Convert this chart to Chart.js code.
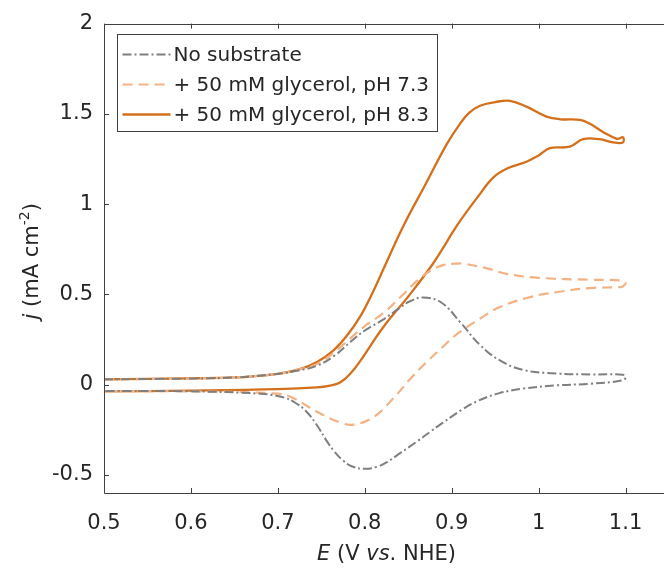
<!DOCTYPE html>
<html>
<head>
<meta charset="utf-8">
<script src="https://cdn.jsdelivr.net/npm/chart.js@4.4.0/dist/chart.umd.min.js"></script>
<style>
    html, body { margin: 0; padding: 0; background: #fff; overflow: hidden; }
    canvas { display: block; }
</style>
</head>
<body>
<canvas id="grafikCV" width="680" height="568"></canvas>
<script>
// tick marks on the axes
const tickX = [0.5, 0.6, 0.7, 0.8, 0.9, 1, 1.1];
const tickY = [-0.5, 0, 0.5, 1, 1.5, 2];

// series names
const labels = ['No substrate', '+ 50 mM glycerol, pH 7.3', '+ 50 mM glycerol, pH 8.3'];

// no substrate: forward scan then return scan (V, mA cm-2)
const eNoSub = [0.5, 0.6, 0.65, 0.7, 0.725, 0.745, 0.765, 0.783, 0.8, 0.821, 0.84, 0.852, 0.867, 0.888, 0.91, 0.9325, 0.9555, 0.982, 1.02, 1.06, 1.097, 1.1,
    1.097, 1.059, 1.02, 0.982, 0.954, 0.93, 0.913, 0.89, 0.875, 0.86, 0.841, 0.826, 0.814, 0.8, 0.785, 0.775, 0.765, 0.756, 0.745, 0.733, 0.72, 0.706, 0.68, 0.6, 0.5];
const jNoSub = [0.03, 0.034, 0.04, 0.06, 0.08, 0.105, 0.16, 0.235, 0.3, 0.36, 0.425, 0.462, 0.483, 0.455, 0.345, 0.22, 0.134, 0.082, 0.062, 0.057, 0.055, 0.04,
    0.024, 0.005, -0.004, -0.022, -0.048, -0.09, -0.135, -0.21, -0.262, -0.315, -0.378, -0.428, -0.455, -0.466, -0.452, -0.42, -0.37, -0.31, -0.225, -0.15, -0.1, -0.07, -0.05, -0.037, -0.035];

// glycerol, pH 7.3
const ePh73 = [0.5, 0.6, 0.65, 0.7, 0.725, 0.745, 0.765, 0.783, 0.8, 0.821, 0.84, 0.86, 0.875, 0.89, 0.906, 0.917, 0.944, 0.963, 1.0, 1.059, 1.095, 1.1,
    1.097, 1.093, 1.059, 1.02, 0.99, 0.9555, 0.9325, 0.906, 0.89, 0.87, 0.852, 0.833, 0.81, 0.787, 0.772, 0.745, 0.718, 0.7, 0.6, 0.5];
const jPh73 = [0.03, 0.034, 0.04, 0.06, 0.085, 0.115, 0.18, 0.255, 0.325, 0.395, 0.48, 0.575, 0.63, 0.662, 0.671, 0.668, 0.64, 0.614, 0.592, 0.581, 0.577, 0.565,
    0.545, 0.54, 0.535, 0.512, 0.485, 0.43, 0.365, 0.28, 0.21, 0.12, 0.03, -0.075, -0.18, -0.221, -0.21, -0.15, -0.075, -0.05, -0.037, -0.035];

// glycerol, pH 8.3
const ePh83 = [0.5, 0.55, 0.6, 0.65, 0.68, 0.7, 0.726, 0.745, 0.764, 0.78, 0.795, 0.808, 0.821, 0.844, 0.871, 0.894, 0.9095, 0.92, 0.9325, 0.95, 0.967, 0.986, 1.009, 1.025, 1.0475, 1.059, 1.074, 1.09, 1.097,
    1.097, 1.086, 1.07, 1.051, 1.036, 1.013, 1.0, 0.986, 0.965, 0.948, 0.93, 0.906, 0.888, 0.877, 0.852, 0.821, 0.795, 0.785, 0.772, 0.76, 0.745, 0.7, 0.6, 0.5];
const jPh83 = [0.03, 0.032, 0.035, 0.04, 0.05, 0.06, 0.087, 0.125, 0.19, 0.275, 0.38, 0.5, 0.635, 0.875, 1.12, 1.33, 1.445, 1.505, 1.545, 1.565, 1.572, 1.54, 1.485, 1.47, 1.467, 1.445, 1.4, 1.362, 1.37,
    1.342, 1.342, 1.36, 1.36, 1.318, 1.31, 1.27, 1.235, 1.2, 1.148, 1.04, 0.881, 0.741, 0.66, 0.5, 0.317, 0.133, 0.07, 0.013, -0.005, -0.015, -0.025, -0.033, -0.037];

function toPoints(e, j) {
    return e.map(function (v, i) {
        return { x: v, y: j[i] };
    });
}

const fontFamily = "'DejaVu Sans', 'Liberation Sans', Arial, sans-serif";
const textColor = '#262626';
const axisColor = '#404040';

// box round the plot with inward ticks on all four sides
const framePlugin = {
    id: 'frameTicks',
    afterDraw: function (chart) {
        const ctx = chart.ctx;
        const a = chart.chartArea;
        const sx = chart.scales.x;
        const sy = chart.scales.y;
        const len = 5;
        ctx.save();
        ctx.strokeStyle = axisColor;
        ctx.lineWidth = 1;
        ctx.beginPath();
        ctx.rect(Math.round(a.left) + 0.5, Math.round(a.top) + 0.5, Math.round(a.right - a.left), Math.round(a.bottom - a.top));
        tickX.forEach(function (v) {
            const px = Math.round(sx.getPixelForValue(v)) + 0.5;
            ctx.moveTo(px, a.bottom);
            ctx.lineTo(px, a.bottom - len);
            ctx.moveTo(px, a.top);
            ctx.lineTo(px, a.top + len);
        });
        tickY.forEach(function (v) {
            const py = Math.round(sy.getPixelForValue(v)) + 0.5;
            ctx.moveTo(a.left, py);
            ctx.lineTo(a.left + len, py);
            ctx.moveTo(a.right, py);
            ctx.lineTo(a.right - len, py);
        });
        ctx.stroke();
        ctx.restore();
    }
};

// draws a run of text pieces, some italic, some raised
function drawPieces(ctx, pieces, cx, cy) {
    let total = 0;
    pieces.forEach(function (p) {
        ctx.font = (p.italic ? 'italic ' : '') + p.size + 'px ' + fontFamily;
        p.w = ctx.measureText(p.text).width;
        total += p.w;
    });
    let x = cx - total / 2;
    pieces.forEach(function (p) {
        ctx.font = (p.italic ? 'italic ' : '') + p.size + 'px ' + fontFamily;
        ctx.fillText(p.text, x, cy - (p.rise || 0));
        x += p.w;
    });
}

const axisTitlePlugin = {
    id: 'axisTitles',
    afterDraw: function (chart) {
        const ctx = chart.ctx;
        const a = chart.chartArea;
        ctx.save();
        ctx.fillStyle = textColor;
        ctx.textAlign = 'left';
        ctx.textBaseline = 'middle';
        drawPieces(ctx, [
            { text: 'E', italic: true, size: 21 },
            { text: ' (V ', size: 21 },
            { text: 'vs', italic: true, size: 21 },
            { text: '. NHE)', size: 21 }
        ], (a.left + a.right) / 2, 555);

        ctx.translate(33, (a.top + a.bottom) / 2 + 3);
        ctx.rotate(-Math.PI / 2);
        drawPieces(ctx, [
            { text: 'j', italic: true, size: 21 },
            { text: ' (mA cm', size: 21 },
            { text: '-2', size: 14, rise: 8 },
            { text: ')', size: 21 }
        ], 0, 0);
        ctx.restore();
    }
};

// legend box in the top left corner of the plot
const legendPlugin = {
    id: 'legendBox',
    afterDraw: function (chart) {
        const ctx = chart.ctx;
        const a = chart.chartArea;
        const left = Math.round(a.left + 13) + 0.5;
        const top = Math.round(a.top + 10) + 0.5;
        const width = 320;
        const height = 97;
        ctx.save();
        ctx.fillStyle = '#ffffff';
        ctx.fillRect(left, top, width, height);
        ctx.strokeStyle = axisColor;
        ctx.lineWidth = 1;
        ctx.strokeRect(left, top, width, height);

        ctx.font = '20px ' + fontFamily;
        ctx.textAlign = 'left';
        ctx.textBaseline = 'middle';
        chart.data.datasets.forEach(function (ds, i) {
            const y = top + 20 + i * 30;
            ctx.beginPath();
            ctx.strokeStyle = ds.borderColor;
            ctx.lineWidth = ds.borderWidth;
            ctx.setLineDash(ds.borderDash || []);
            ctx.moveTo(left + 5, y);
            ctx.lineTo(left + 53, y);
            ctx.stroke();
            ctx.setLineDash([]);
            ctx.fillStyle = textColor;
            ctx.fillText(ds.label, left + 56, y + 1);
        });
        ctx.restore();
    }
};

new Chart('grafikCV', {
    type: 'scatter',
    data: {
        datasets: [{
            label: labels[0],
            data: toPoints(eNoSub, jNoSub),
            borderColor: '#7f7f7f',
            borderWidth: 2,
            borderDash: [9, 3, 2, 3],
            showLine: true,
            pointRadius: 0,
            tension: 0.4
        }, {
            label: labels[1],
            data: toPoints(ePh73, jPh73),
            borderColor: '#f4b183',
            borderWidth: 2.2,
            borderDash: [10, 6],
            showLine: true,
            pointRadius: 0,
            tension: 0.4
        }, {
            label: labels[2],
            data: toPoints(ePh83, jPh83),
            borderColor: '#d4701c',
            borderWidth: 2.3,
            showLine: true,
            pointRadius: 0,
            tension: 0.4
        }]
    },
    options: {
        responsive: false,
        animation: false,
        layout: {
            padding: { top: 23, right: 11, left: 0, bottom: 0 }
        },
        plugins: {
            legend: { display: false },
            tooltip: { enabled: false }
        },
        scales: {
            x: {
                type: 'linear',
                min: 0.5,
                max: 1.15,
                grid: { display: false, drawTicks: false },
                border: { display: false },
                afterBuildTicks: function (scale) {
                    scale.ticks = tickX.map(function (v) { return { value: v }; });
                },
                afterFit: function (scale) {
                    scale.height = 75;
                },
                ticks: {
                    color: textColor,
                    padding: 18,
                    maxRotation: 0,
                    font: { family: fontFamily, size: 21 },
                    callback: function (value) {
                        return String(value);
                    }
                }
            },
            y: {
                type: 'linear',
                min: -0.6,
                max: 2,
                grid: { display: false, drawTicks: false },
                border: { display: false },
                afterBuildTicks: function (scale) {
                    scale.ticks = tickY.map(function (v) { return { value: v }; });
                },
                afterFit: function (scale) {
                    scale.width = 104;
                },
                ticks: {
                    color: textColor,
                    padding: 11,
                    font: { family: fontFamily, size: 21 },
                    callback: function (value) {
                        return String(value);
                    }
                }
            }
        }
    },
    plugins: [framePlugin, axisTitlePlugin, legendPlugin]
});
</script>
</body>
</html>
